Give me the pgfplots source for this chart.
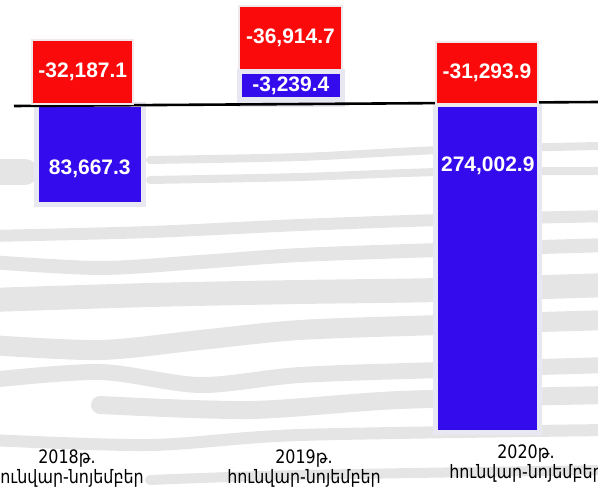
\documentclass[border=0pt]{standalone}
\usepackage{fontspec}
\setmainfont{Liberation Sans}
\newfontfamily\armfont[FakeStretch=0.86]{DejaVu Sans}
\usepackage{pgfplots}
\pgfplotsset{compat=1.18}
\definecolor{barblue}{RGB}{51,11,237}
\definecolor{barred}{RGB}{250,10,10}
\definecolor{edgeblue}{RGB}{232,232,242}
\definecolor{edgered}{RGB}{240,232,234}
\definecolor{texgray}{RGB}{229,229,229}
\newcommand\lbl[1]{\begin{tabular}{@{}c@{}}#1թ.\\հունվար-նոյեմբեր\end{tabular}}
\tikzset{lab/.style={font=\bfseries\fontsize{21}{21}\selectfont, text=white, inner sep=0pt}}
\pgfplotsset{
  base/.style={
    scale only axis, width=598pt, height=492pt,
    xmin=0, xmax=598, ymin=-87982, ymax=324278, y dir=reverse,
    axis line style={draw=none}, major tick length=0pt,
    ytick=\empty, xtick=\empty, clip=false,
    ybar, bar shift=0pt,
  },
}
\begin{document}
\begin{tikzpicture}
\clip (0,0) rectangle (598pt,492pt);
\begin{scope}[x=1pt,y=1pt,line cap=round,line join=round]
\draw[texgray,line width=8] plot[smooth] coordinates {(150,332)(300,335)(440,342)(598,346)};
\draw[texgray,line width=8] plot[smooth] coordinates {(150,312)(300,315)(440,320)(598,321)};
\draw[texgray,line width=26] plot[smooth] coordinates {(-10,320)(25,320)};
\draw[texgray,line width=12] plot[smooth] coordinates {(-10,256)(150,260)(300,267)(440,272)(610,276)};
\draw[texgray,line width=14] plot[smooth] coordinates {(-10,230)(100,224)(200,230)(300,237)(440,242)(610,247)};
\draw[texgray,line width=24] plot[smooth] coordinates {(-10,192)(150,197)(300,200)(440,202)(610,207)};
\draw[texgray,line width=20] plot[smooth] coordinates {(-10,147)(100,142)(200,152)(300,162)(440,167)(610,172)};
\draw[texgray,line width=16] plot[smooth] coordinates {(-10,112)(100,120)(200,107)(300,117)(440,122)(610,127)};
\draw[texgray,line width=18] plot[smooth] coordinates {(100,87)(250,82)(400,92)(610,97)};
\draw[texgray,line width=12] plot[smooth] coordinates {(-10,52)(150,47)(300,57)(610,62)};
\draw[texgray,line width=10] plot[smooth] coordinates {(150,12)(300,17)(610,22)};
\end{scope}
% stacked 2019 negative part
\begin{axis}[base, ybar stacked, bar shift=0pt]
  \addplot[draw=none, fill=none, bar width=103pt] coordinates {(290.5,-3239.4)};
  \addplot[fill=barred, draw=edgered, line width=2pt, bar width=103pt,
    point meta=explicit symbolic, nodes near coords,
    nodes near coords style={lab, anchor=center, fill=barred, draw=edgered, line width=2pt,
      minimum width=103pt, minimum height=64pt, yshift=41pt}]
    coordinates {(290.5,-36914.7) [-36,914.7]};
\end{axis}
\begin{axis}[base, xtick={67,304,526},
    xticklabels={{\lbl{2018}},{\lbl{2019}},{\raisebox{5pt}[\height][\depth]{\lbl{2020}}}},
    xticklabel style={font=\armfont\fontsize{18.5}{20}\selectfont, inner sep=0pt, anchor=north, yshift=43pt}]
  \addplot[fill=barblue, draw=edgeblue, line width=5pt, bar width=106.7pt,
    point meta=explicit symbolic, nodes near coords,
    nodes near coords style={lab, anchor=center, yshift=35.85pt}]
    coordinates {(89.8,83667.3) [83,667.3]};
  \addplot[fill=barblue, draw=edgeblue, line width=5pt, bar width=104pt,
    point meta=explicit symbolic, nodes near coords,
    nodes near coords style={lab, anchor=center, yshift=266pt}]
    coordinates {(487.8,274002.9) [274,002.9]};
  \addplot[fill=barblue, draw=edgeblue, line width=5pt, bar width=103.3pt,
    point meta=explicit symbolic, nodes near coords,
    nodes near coords style={lab, anchor=center, fill=barblue, draw=edgeblue, line width=5pt,
      minimum width=103.3pt, minimum height=27.7pt, yshift=15.8pt}]
    coordinates {(290.8,-3239.4) [-3,239.4]};
  \addplot[fill=barred, draw=edgered, line width=2pt, bar width=101pt,
    point meta=explicit symbolic, nodes near coords,
    nodes near coords style={lab, anchor=center, fill=barred, draw=edgered, line width=2pt,
      minimum width=101pt, minimum height=64pt, yshift=-5.4pt}]
    coordinates {(82.8,-32187.1) [-32,187.1]};
  \addplot[fill=barred, draw=edgered, line width=2pt, bar width=102pt,
    point meta=explicit symbolic, nodes near coords,
    nodes near coords style={lab, anchor=center, fill=barred, draw=edgered, line width=2pt,
      minimum width=102pt, minimum height=62.3pt, yshift=-5.2pt}]
    coordinates {(487,-31293.9) [-31,293.9]};
  \draw[black, line width=2.6pt] (axis cs:14,838) -- (axis cs:598,-2514);
\end{axis}
\end{tikzpicture}
\end{document}
